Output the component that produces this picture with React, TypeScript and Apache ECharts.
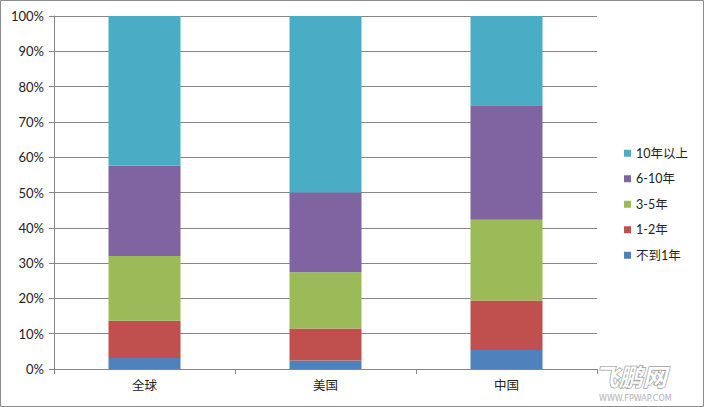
import React, { useEffect, useRef } from "react";
import * as echarts from "echarts";

const categories = ["全球", "美国", "中国"];
const seriesNames = ["不到1年", "1-2年", "3-5年", "6-10年", "10年以上"];
const lessThan1 = [3.1, 2.4, 5.4];
const oneToTwo = [10.6, 9.1, 14.0];
const threeToFive = [18.3, 15.9, 22.9];
const sixToTen = [25.6, 22.6, 32.4];
const overTen = [42.4, 50.0, 25.3];
const seriesValues = [lessThan1, oneToTwo, threeToFive, sixToTen, overTen];
const colors = ["#4F81BD", "#C0504D", "#9BBB59", "#8064A2", "#4BACC6"];
const legendOrder = ["10年以上", "6-10年", "3-5年", "1-2年", "不到1年"];

export default function App() {
  const ref = useRef<HTMLDivElement>(null);
  useEffect(() => {
    if (!ref.current) return;
    const chart = echarts.init(ref.current, undefined, { renderer: "svg" });
    const font = "Lato, 'Noto Sans CJK SC', sans-serif";
    chart.setOption({
      animation: false,
      backgroundColor: "#ffffff",
      textStyle: { fontFamily: font },
      grid: { left: 54, right: 107, top: 16, bottom: 38 },
      legend: {
        orient: "vertical",
        left: 619,
        top: 142,
        itemWidth: 7,
        itemHeight: 7,
        itemGap: 13,
        icon: "rect",
        data: legendOrder,
        textStyle: { fontSize: 12.5, color: "#222", fontFamily: font },
      },
      xAxis: {
        type: "category",
        data: categories,
        axisLine: { lineStyle: { color: "#868686" } },
        axisTick: { show: true, length: 5, lineStyle: { color: "#868686" } },
        axisLabel: { color: "#222", fontSize: 12.5, margin: 10, fontFamily: font },
      },
      yAxis: {
        type: "value",
        min: 0,
        max: 100,
        interval: 10,
        axisLine: { show: true, lineStyle: { color: "#868686" } },
        axisTick: { show: true, length: 5, lineStyle: { color: "#868686" } },
        axisLabel: { formatter: "{value}%", color: "#222", fontSize: 13, margin: 10, fontFamily: font },
        splitLine: { lineStyle: { color: "#868686" } },
      },
      series: seriesNames.map((name, i) => ({
        name,
        type: "bar",
        stack: "total",
        barWidth: 72,
        data: seriesValues[i],
        itemStyle: { color: colors[i] },
      })),
      graphic: [
        {
          type: "rect",
          shape: { x: 0.5, y: 0.5, width: 703, height: 406 },
          style: { fill: "none", stroke: "#8c8c8c", lineWidth: 1 },
          silent: true,
        },
        {
          type: "text",
          left: 594,
          top: 363,
          style: {
            text: "飞鹏网",
            font: "italic bold 24px 'Noto Sans CJK SC', sans-serif",
            fill: "#ffffff",
            stroke: "#a0a0a0",
            lineWidth: 1.5,
          },
        },
        {
          type: "text",
          left: 599,
          top: 394,
          style: {
            text: "WWW.FPWAP.COM",
            font: "8px 'DejaVu Sans', sans-serif",
            fill: "#b0b0b0",
          },
        },
      ],
    });
    return () => chart.dispose();
  }, []);
  return (
    <div
      ref={ref}
      style={{ position: "fixed", left: 0, top: 0, width: 704, height: 407 }}
    />
  );
}
